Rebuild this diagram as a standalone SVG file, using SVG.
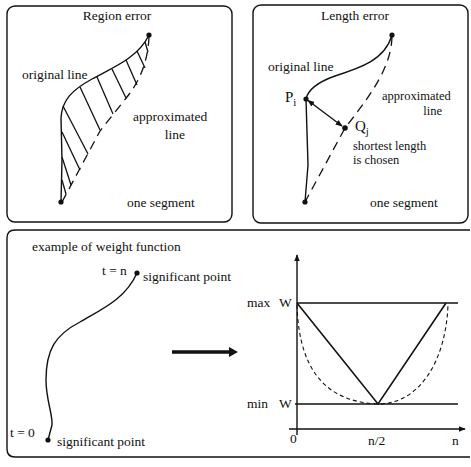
<svg xmlns="http://www.w3.org/2000/svg" width="471" height="467" viewBox="0 0 471 467">
<style>
text{font-family:"Liberation Serif","Times New Roman",serif;font-size:13.5px;fill:#111}
.sm{font-size:12.5px}
.frame{fill:none;stroke:#111;stroke-width:1.4}
.line{fill:none;stroke:#111;stroke-width:1.4}
.dash{fill:none;stroke:#111;stroke-width:1.3;stroke-dasharray:9 6}
.fdash{fill:none;stroke:#111;stroke-width:1.1;stroke-dasharray:4 3}
.hatch{fill:none;stroke:#111;stroke-width:1.3}
.dot{fill:#111}
</style>
<defs>
<marker id="ah" viewBox="0 0 10 10" refX="9" refY="5" markerWidth="7" markerHeight="7" orient="auto-start-reverse" markerUnits="userSpaceOnUse">
<path d="M0,1 L10,5 L0,9 z" fill="#111"/>
</marker>
</defs>
<rect width="471" height="467" fill="#fff"/>

<g id="panel-region-error">
<rect class="frame" x="7" y="6" width="225" height="216" rx="8"/>
<text x="117" y="20" text-anchor="middle">Region error</text>
<text x="22" y="79">original line</text>
<text x="133" y="121">approximated</text>
<text x="185" y="139" text-anchor="end">line</text>
<text x="127" y="207">one segment</text>
<path class="line" d="M149,35 C138,58 112,68 92,79 C72,90 62,100 61,118 L62,160 L61,202"/>
<path class="dash" d="M149,37 C148,58 142,78 127,97 L100,131 L62,202"/>
<g class="hatch">
<path d="M145,42 L148,52"/>
<path d="M137,51 L145,68"/>
<path d="M126,60 L137,85"/>
<path d="M112,69 L126,98"/>
<path d="M97,77 L113,114"/>
<path d="M80,87 L100,130"/>
<path d="M63,106 L88,154"/>
<path d="M62,132 L80,170"/>
<path d="M62,157 L71,185"/>
<path d="M62,180 L66,194"/>
</g>
<circle class="dot" cx="149" cy="35" r="2.6"/>
<circle class="dot" cx="61" cy="202" r="2.6"/>
</g>

<g id="panel-length-error">
<rect class="frame" x="253" y="5" width="215" height="218" rx="8"/>
<text x="355" y="20" text-anchor="middle">Length error</text>
<text x="268" y="71">original line</text>
<text class="sm" x="382" y="100">approximated</text>
<text class="sm" x="442" y="115" text-anchor="end">line</text>
<text x="285" y="102" style="font-size:15px">P<tspan dy="4" style="font-size:11px">i</tspan></text>
<text x="355" y="131" style="font-size:15px">Q<tspan dy="3.5" style="font-size:11px">j</tspan></text>
<text class="sm" x="353" y="150">shortest length</text>
<text class="sm" x="353" y="164">is chosen</text>
<text x="370" y="207">one segment</text>
<path class="line" d="M392,35 C385,60 360,68 335,76 C318,82 308,90 306,99 L308,165 L305,202"/>
<path class="dash" d="M392,37 C391,65 375,90 345,128 L305,202"/>
<circle class="dot" cx="392" cy="35" r="2.6"/>
<circle class="dot" cx="306" cy="99" r="2.6"/>
<circle class="dot" cx="345" cy="128" r="2.8"/>
<circle class="dot" cx="305" cy="202" r="2.6"/>
</g>

<g id="connectors">
<line x1="308" y1="100.5" x2="342" y2="126" stroke="#111" stroke-width="1.4" marker-start="url(#ah)" marker-end="url(#ah)"/>
<line x1="172" y1="352" x2="230" y2="352" stroke="#111" stroke-width="3.6"/>
<path d="M229,347 L238,352 L229,357 z" fill="#111"/>
</g>

<g id="panel-weight-function">
<path class="frame" d="M470,230 H15 Q7,230 7,238 V449 Q7,457 15,457 H470"/>
<text x="32" y="251">example of weight function</text>
<text x="102" y="275">t = n</text>
<text x="143" y="281">significant point</text>
<text x="10" y="437">t = 0</text>
<text x="57" y="446">significant point</text>
<path class="line" d="M137,273 C125,300 100,310 80,322 C55,335 46,350 46,380 C46,400 53,415 52,425 L48,440"/>
<circle class="dot" cx="137" cy="273" r="2.6"/>
<circle class="dot" cx="48" cy="440" r="2.6"/>
</g>

<g id="graph">
<line class="line" x1="297" y1="435" x2="297" y2="255" marker-end="url(#ah)"/>
<line class="line" x1="289" y1="429" x2="465" y2="429" marker-end="url(#ah)"/>
<line class="line" x1="297" y1="303" x2="458" y2="303"/>
<line class="line" x1="295" y1="404" x2="458" y2="404"/>
<path class="line" d="M297,303 L378,404 L446,303" style="stroke-width:1.6"/>
<path class="fdash" d="M297,305 C299,375 330,402 378,404 C420,404 446,360 448,305"/>
<text x="247" y="307">max<tspan x="279">W</tspan></text>
<text x="247" y="408">min<tspan x="279">W</tspan></text>
<text x="290" y="443">0</text>
<text x="368" y="445">n/2</text>
<text x="452" y="445">n</text>
</g>
</svg>
